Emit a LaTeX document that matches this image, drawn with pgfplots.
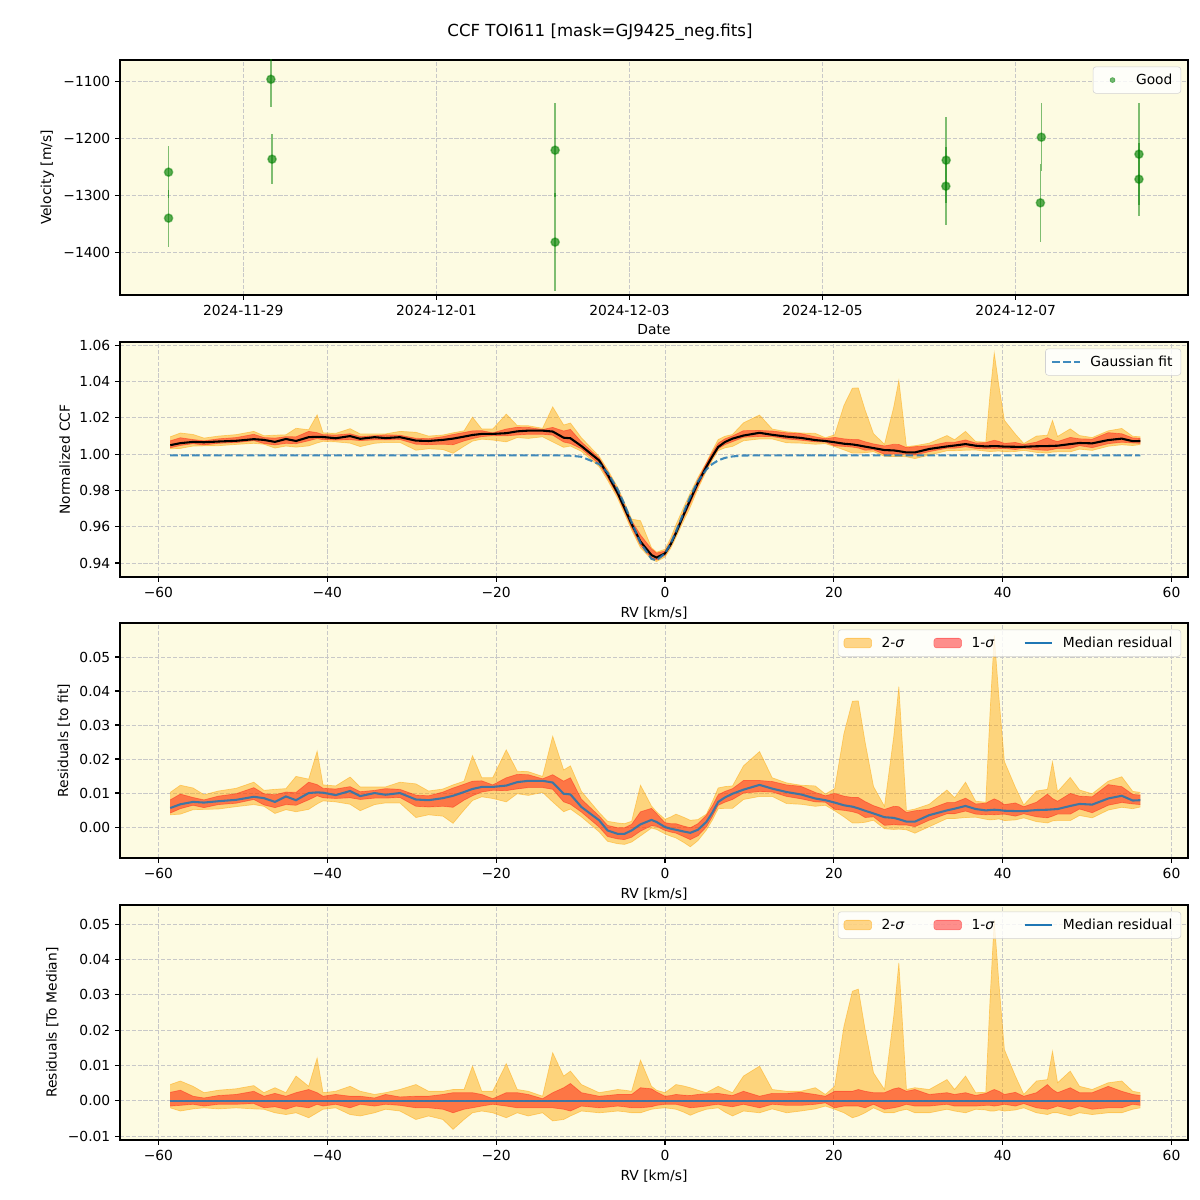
\documentclass[border=0pt]{standalone}
\usepackage{fontspec}
\setmainfont{DejaVu Sans}
\usepackage{pgfplots}
\pgfplotsset{compat=1.18}
\usepgfplotslibrary{fillbetween}
\usepackage{pgfplotstable}

\definecolor{BgYellow}{HTML}{FDFBE2}
\definecolor{TabBlue}{HTML}{1F77B4}
\definecolor{MplGreen}{HTML}{008000}
\definecolor{MplOrange}{HTML}{FFA500}
\definecolor{MplRed}{HTML}{FF0000}
\definecolor{GridGray}{HTML}{C8C8C8}

% rv, gaussian fit, median residual to fit, deviations from median (2-sigma / 1-sigma)
\pgfplotstableread{
rv fit res dlo2 dlo1 dhi1 dhi2
-58.6 0.9993 0.0056 -0.0020 -0.0015 0.0024 0.0046
-57.4 0.9993 0.0067 -0.0029 -0.0013 0.0030 0.0056
-55.9 0.9993 0.0074 -0.0023 -0.0010 0.0013 0.0041
-54.6 0.9993 0.0072 -0.0020 -0.0015 0.0008 0.0023
-52.9 0.9993 0.0076 -0.0023 -0.0010 0.0015 0.0030
-50.8 0.9993 0.0080 -0.0020 -0.0010 0.0018 0.0034
-48.7 0.9993 0.0089 -0.0023 -0.0008 0.0027 0.0043
-47.5 0.9993 0.0085 -0.0024 -0.0020 0.0013 0.0023
-46.2 0.9993 0.0074 -0.0034 -0.0017 0.0021 0.0037
-44.9 0.9993 0.0090 -0.0039 -0.0024 0.0013 0.0023
-43.7 0.9993 0.0079 -0.0034 -0.0015 0.0023 0.0070
-42.2 0.9993 0.0100 -0.0048 -0.0020 0.0032 0.0041
-41.2 0.9993 0.0102 -0.0034 -0.0010 0.0023 0.0121
-40.5 0.9993 0.0101 -0.0024 -0.0015 0.0013 0.0023
-39.0 0.9993 0.0094 -0.0020 -0.0010 0.0018 0.0027
-37.3 0.9993 0.0106 -0.0039 -0.0020 0.0013 0.0041
-36.1 0.9993 0.0091 -0.0043 -0.0010 0.0013 0.0027
-34.4 0.9993 0.0100 -0.0034 -0.0015 0.0008 0.0018
-33.1 0.9993 0.0095 -0.0024 -0.0010 0.0018 0.0023
-31.4 0.9993 0.0100 -0.0029 -0.0013 0.0011 0.0032
-29.5 0.9993 0.0081 -0.0053 -0.0020 0.0013 0.0046
-28.0 0.9993 0.0079 -0.0043 -0.0020 0.0013 0.0027
-26.3 0.9993 0.0085 -0.0053 -0.0024 0.0018 0.0027
-25.1 0.9993 0.0092 -0.0081 -0.0034 0.0023 0.0032
-23.8 0.9993 0.0103 -0.0053 -0.0024 0.0023 0.0032
-22.8 0.9993 0.0112 -0.0034 -0.0020 0.0023 0.0098
-21.7 0.9993 0.0118 -0.0029 -0.0015 0.0018 0.0027
-20.4 0.9993 0.0118 -0.0034 -0.0010 0.0006 0.0027
-18.8 0.9993 0.0122 -0.0048 -0.0015 0.0023 0.0105
-17.5 0.9993 0.0132 -0.0034 -0.0020 0.0023 0.0032
-16.2 0.9993 0.0136 -0.0043 -0.0020 0.0018 0.0027
-14.5 0.9993 0.0136 -0.0034 -0.0020 0.0006 0.0013
-13.3 0.9993 0.0131 -0.0057 -0.0020 0.0023 0.0136
-12.0 0.9992 0.0098 -0.0053 -0.0024 0.0037 0.0070
-11.2 0.9991 0.0096 -0.0043 -0.0029 0.0049 0.0084
-9.9 0.9985 0.0059 -0.0029 -0.0015 0.0023 0.0046
-7.8 0.9945 0.0020 -0.0034 -0.0020 0.0013 0.0023
-6.8 0.9898 -0.0010 -0.0032 -0.0018 0.0015 0.0027
-5.6 0.9805 -0.0020 -0.0029 -0.0015 0.0018 0.0032
-4.8 0.9723 -0.0020 -0.0031 -0.0017 0.0018 0.0030
-3.95 0.9625 -0.0010 -0.0034 -0.0020 0.0018 0.0027
-2.9 0.9510 0.0008 -0.0034 -0.0020 0.0037 0.0115
-1.6 0.9423 0.0021 -0.0024 -0.0017 0.0034 0.0041
-1.0 0.9415 0.0015 -0.0022 -0.0013 0.0025 0.0030
0.0 0.9453 0.0000 -0.0020 -0.0010 0.0013 0.0023
0.7 0.9510 -0.0005 -0.0022 -0.0010 0.0015 0.0035
1.3 0.9573 -0.0008 -0.0024 -0.0010 0.0018 0.0046
2.2 0.9677 -0.0013 -0.0032 -0.0015 0.0016 0.0042
3.0 0.9766 -0.0017 -0.0041 -0.0020 0.0015 0.0037
3.9 0.9849 -0.0008 -0.0032 -0.0018 0.0018 0.0030
4.9 0.9915 0.0015 -0.0024 -0.0015 0.0020 0.0023
5.6 0.9945 0.0042 -0.0022 -0.0012 0.0020 0.0032
6.3 0.9965 0.0074 -0.0020 -0.0010 0.0021 0.0041
7.1 0.9979 0.0087 -0.0032 -0.0014 0.0018 0.0032
8.0 0.9987 0.0098 -0.0043 -0.0017 0.0015 0.0023
9.3 0.9992 0.0110 -0.0029 -0.0010 0.0027 0.0070
11.2 0.9993 0.0124 -0.0034 -0.0020 0.0013 0.0098
12.7 0.9993 0.0113 -0.0023 -0.0010 0.0021 0.0032
14.4 0.9993 0.0103 -0.0034 -0.0013 0.0021 0.0027
16.1 0.9993 0.0096 -0.0029 -0.0013 0.0024 0.0027
17.8 0.9993 0.0084 -0.0023 -0.0010 0.0018 0.0037
19.0 0.9993 0.0079 -0.0015 -0.0006 0.0013 0.0018
20.1 0.9993 0.0072 -0.0024 -0.0020 0.0027 0.0041
21.2 0.9993 0.0064 -0.0034 -0.0015 0.0027 0.0211
22.2 0.9993 0.0060 -0.0048 -0.0015 0.0027 0.0310
22.9 0.9993 0.0055 -0.0043 -0.0015 0.0032 0.0316
23.7 0.9993 0.0048 -0.0034 -0.0020 0.0027 0.0202
24.7 0.9993 0.0040 -0.0020 -0.0010 0.0023 0.0079
26.0 0.9993 0.0029 -0.0034 -0.0024 0.0023 0.0032
27.1 0.9993 0.0027 -0.0034 -0.0020 0.0034 0.0240
27.7 0.9993 0.0023 -0.0029 -0.0017 0.0037 0.0390
28.6 0.9993 0.0016 -0.0024 -0.0010 0.0027 0.0032
29.6 0.9993 0.0016 -0.0034 -0.0015 0.0032 0.0037
31.3 0.9993 0.0035 -0.0034 -0.0015 0.0018 0.0032
33.4 0.9993 0.0049 -0.0024 -0.0010 0.0023 0.0060
34.3 0.9993 0.0054 -0.0029 -0.0015 0.0018 0.0032
35.6 0.9993 0.0062 -0.0034 -0.0015 0.0023 0.0070
36.8 0.9993 0.0053 -0.0024 -0.0015 0.0015 0.0023
38.0 0.9993 0.0049 -0.0026 -0.0013 0.0021 0.0024
38.5 0.9993 0.0050 -0.0029 -0.0013 0.0027 0.0286
39.0 0.9993 0.0051 -0.0029 -0.0015 0.0032 0.0512
39.55 0.9993 0.0050 -0.0026 -0.0013 0.0027 0.0333
40.2 0.9993 0.0048 -0.0029 -0.0010 0.0018 0.0145
41.5 0.9993 0.0047 -0.0026 -0.0015 0.0024 0.0070
42.5 0.9993 0.0047 -0.0020 -0.0008 0.0013 0.0018
44.0 0.9993 0.0050 -0.0034 -0.0020 0.0023 0.0056
45.3 0.9993 0.0051 -0.0039 -0.0024 0.0046 0.0060
45.9 0.9993 0.0052 -0.0034 -0.0020 0.0032 0.0140
46.5 0.9993 0.0053 -0.0034 -0.0015 0.0023 0.0051
48.0 0.9993 0.0062 -0.0043 -0.0024 0.0037 0.0084
49.1 0.9993 0.0068 -0.0034 -0.0015 0.0023 0.0041
50.6 0.9993 0.0066 -0.0039 -0.0024 0.0023 0.0032
52.5 0.9993 0.0084 -0.0034 -0.0020 0.0041 0.0051
54.1 0.9993 0.0092 -0.0034 -0.0020 0.0027 0.0056
55.4 0.9993 0.0078 -0.0024 -0.0010 0.0018 0.0027
56.3 0.9993 0.0079 -0.0020 -0.0013 0.0015 0.0023
}\ccf

\pgfplotsset{
  panel/.style={
    scale only axis, width=10.68in, height=2.35in,
    axis background/.style={fill=BgYellow},
    grid=major,
    major grid style={GridGray, line width=0.6pt, dash pattern=on 2.96pt off 1.28pt},
    axis line style={black, line width=0.8pt},
    tick align=outside, major tick length=3.5pt,
    tick style={black, line width=0.8pt},
    tick pos=left, scaled ticks=false,
    tick label style={font=\fontsize{10}{12}\selectfont},
    label style={font=\fontsize{10}{12}\selectfont},
    legend cell align=left,
    legend style={font=\fontsize{10}{12}\selectfont, draw=gray!35, fill=white,
      fill opacity=0.8, text opacity=1, rounded corners=2pt,
      at={(0.9935,0.972)}, anchor=north east, inner xsep=4pt, inner ysep=3pt,
      /tikz/every odd column/.append style={column sep=5pt}},
  },
  rvpanel/.style={
    panel,
    xmin=-64.55, xmax=61.95,
    xtick={-60,-40,-20,0,20,40,60},
    xticklabels={−60,−40,−20,0,20,40,60},
    xlabel={RV [km/s]},
  },
  sigmalegend/.style={
    legend columns=3,
    legend style={/tikz/every even column/.append style={column sep=19pt}},
  },
  mpl line legend/.style={legend image code/.code={\draw[##1] (0pt,0pt) -- (20pt,0pt);}},
  mpl patch legend/.style={legend image code/.code={\draw[##1] (0pt,-3.5pt) rectangle (20pt,3.5pt);}},
  band2/.style={draw=MplOrange, draw opacity=0.45, line width=0.5pt, forget plot},
  band1/.style={draw=MplRed, draw opacity=0.35, line width=0.5pt, forget plot},
}

\begin{document}
\begin{tikzpicture}
\node at (6.0in,-0.32in) {\fontsize{12}{14}\selectfont CCF TOI611 [mask=GJ9425\_neg.fits]};

% ---------- velocities ----------
\begin{axis}[panel, at={(1.20in,-2.95in)}, anchor=south west,
  xmin=-1.277, xmax=9.785, ymin=-1475.4, ymax=-1062.6,
  xtick={0,2,4,6,8},
  xticklabels={2024-11-29,2024-12-01,2024-12-03,2024-12-05,2024-12-07},
  ytick={-1400,-1300,-1200,-1100},
  yticklabels={−1400,−1300,−1200,−1100},
  xlabel={Date}, ylabel={Velocity [m/s]},
]
\addlegendimage{legend image code/.code={\path[draw=none, fill=none] (0pt,0pt) -- (20pt,0pt);
  \fill[MplGreen, opacity=0.55] (10pt,0pt) circle (1.8pt);}}
\addlegendentry{Good}
\addplot[only marks, forget plot, mark=*, mark size=3pt,
  mark options={fill=MplGreen, fill opacity=0.65, draw=MplGreen, draw opacity=0.45, line width=1pt},
  error bars/.cd, y dir=both, y explicit, error mark=none,
  error bar style={MplGreen, opacity=0.5, line width=1.2pt}]
coordinates {
(-0.774,-1259.6) +- (0,46)
(-0.774,-1340.4) +- (0,50)
(0.286,-1096.5) +- (0,48)
(0.298,-1236.8) +- (0,44)
(3.23,-1221.0) +- (0,83)
(3.23,-1382.5) +- (0,86)
(7.280,-1238.6) +- (0,76)
(7.277,-1284.2) +- (0,69)
(8.266,-1198.2) +- (0,60)
(8.256,-1313.5) +- (0,68)
(9.277,-1228.0) +- (0,90)
(9.277,-1272.0) +- (0,64)
};
\end{axis}

% ---------- normalized CCF ----------
\begin{axis}[rvpanel, at={(1.20in,-5.77in)}, anchor=south west,
  ymin=0.9323, ymax=1.0617,
  ytick={0.94,0.96,0.98,1.00,1.02,1.04,1.06},
  yticklabels={0.94,0.96,0.98,1.00,1.02,1.04,1.06},
  ylabel={Normalized CCF},
]
\addplot[band2, name path=ccfu2] table[x=rv, y expr=\thisrow{fit}+\thisrow{res}+\thisrow{dhi2}] {\ccf};
\addplot[band2, name path=ccfl2] table[x=rv, y expr=\thisrow{fit}+\thisrow{res}+\thisrow{dlo2}] {\ccf};
\addplot[fill=MplOrange, fill opacity=0.45, draw=none, forget plot] fill between[of=ccfu2 and ccfl2];
\addplot[band1, name path=ccfu1] table[x=rv, y expr=\thisrow{fit}+\thisrow{res}+\thisrow{dhi1}] {\ccf};
\addplot[band1, name path=ccfl1] table[x=rv, y expr=\thisrow{fit}+\thisrow{res}+\thisrow{dlo1}] {\ccf};
\addplot[fill=MplRed, fill opacity=0.44, draw=none, forget plot] fill between[of=ccfu1 and ccfl1];
\addplot[black, line width=1.5pt, forget plot] table[x=rv, y expr=\thisrow{fit}+\thisrow{res}] {\ccf};
\addplot[TabBlue, draw opacity=0.85, line width=1.5pt, dash pattern=on 5.5pt off 2.4pt, mpl line legend] table[x=rv, y=fit] {\ccf};
\addlegendentry{Gaussian fit}
\end{axis}

% ---------- residuals to fit ----------
\begin{axis}[rvpanel, sigmalegend, at={(1.20in,-8.58in)}, anchor=south west,
  ymin=-0.0091, ymax=0.0600,
  ytick={0,0.01,0.02,0.03,0.04,0.05},
  yticklabels={0.00,0.01,0.02,0.03,0.04,0.05},
  ylabel={Residuals [to fit]},
]
\addlegendimage{mpl patch legend, fill=MplOrange, fill opacity=0.45, draw=MplOrange, draw opacity=0.5}
\addlegendentry{2-\textit{σ}}
\addlegendimage{mpl patch legend, fill=MplRed, fill opacity=0.44, draw=MplRed, draw opacity=0.4}
\addlegendentry{1-\textit{σ}}
\addlegendimage{mpl line legend, TabBlue, line width=1.5pt}
\addlegendentry{Median residual}
\addplot[band2, name path=ru2] table[x=rv, y expr=\thisrow{res}+\thisrow{dhi2}] {\ccf};
\addplot[band2, name path=rl2] table[x=rv, y expr=\thisrow{res}+\thisrow{dlo2}] {\ccf};
\addplot[fill=MplOrange, fill opacity=0.45, draw=none, forget plot] fill between[of=ru2 and rl2];
\addplot[band1, name path=ru1] table[x=rv, y expr=\thisrow{res}+\thisrow{dhi1}] {\ccf};
\addplot[band1, name path=rl1] table[x=rv, y expr=\thisrow{res}+\thisrow{dlo1}] {\ccf};
\addplot[fill=MplRed, fill opacity=0.44, draw=none, forget plot] fill between[of=ru1 and rl1];
\addplot[TabBlue, draw opacity=0.85, line width=1.5pt, forget plot] table[x=rv, y=res] {\ccf};
\end{axis}

% ---------- residuals to median ----------
\begin{axis}[rvpanel, sigmalegend, at={(1.20in,-11.40in)}, anchor=south west,
  ymin=-0.0111, ymax=0.0554,
  ytick={-0.01,0,0.01,0.02,0.03,0.04,0.05},
  yticklabels={−0.01,0.00,0.01,0.02,0.03,0.04,0.05},
  ylabel={Residuals [To Median]},
]
\addlegendimage{mpl patch legend, fill=MplOrange, fill opacity=0.45, draw=MplOrange, draw opacity=0.5}
\addlegendentry{2-\textit{σ}}
\addlegendimage{mpl patch legend, fill=MplRed, fill opacity=0.44, draw=MplRed, draw opacity=0.4}
\addlegendentry{1-\textit{σ}}
\addlegendimage{mpl line legend, TabBlue, line width=1.5pt}
\addlegendentry{Median residual}
\addplot[band2, name path=mu2] table[x=rv, y=dhi2] {\ccf};
\addplot[band2, name path=ml2] table[x=rv, y=dlo2] {\ccf};
\addplot[fill=MplOrange, fill opacity=0.45, draw=none, forget plot] fill between[of=mu2 and ml2];
\addplot[band1, name path=mu1] table[x=rv, y=dhi1] {\ccf};
\addplot[band1, name path=ml1] table[x=rv, y=dlo1] {\ccf};
\addplot[fill=MplRed, fill opacity=0.44, draw=none, forget plot] fill between[of=mu1 and ml1];
\addplot[TabBlue, draw opacity=0.85, line width=1.5pt, forget plot] coordinates {(-58.6,0) (56.3,0)};
\end{axis}
\path (0,0) rectangle (12in,-12in);
\end{tikzpicture}
\end{document}
